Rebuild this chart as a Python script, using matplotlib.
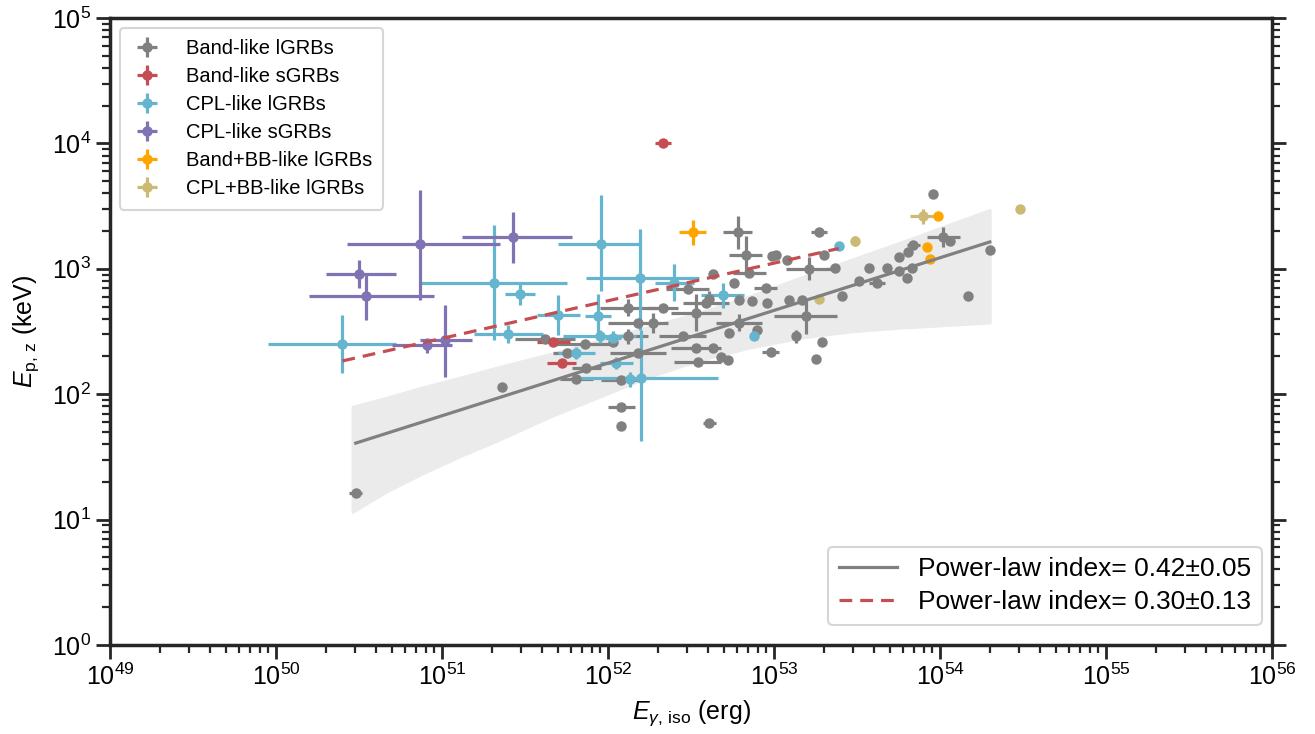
import numpy as np
import matplotlib.pyplot as plt

plt.rcParams['font.family'] = ['Liberation Sans', 'DejaVu Sans']
plt.rcParams['mathtext.fontset'] = 'custom'
plt.rcParams['mathtext.rm'] = 'Liberation Sans'
plt.rcParams['mathtext.it'] = 'Liberation Sans:italic'
plt.rcParams['mathtext.bf'] = 'Liberation Sans:bold'

# values are log10(E_iso / erg) and log10(Ep,z / keV), errors in dex

# Band-like lGRBs
band_l_lge = [50.48, 51.36, 51.62, 51.86, 51.75, 51.87, 51.81, 52.08, 52.08, 52.08,
              52.61, 52.12, 52.18, 52.27, 52.33, 52.12, 52.18, 52.45, 52.53, 52.53,
              52.63, 52.54, 52.68, 52.72, 52.79, 52.73, 52.90, 52.98, 53.25, 53.29,
              53.13, 53.19, 53.09, 53.17, 53.41, 53.51, 53.62, 53.57, 53.68, 53.75,
              53.80, 53.83, 53.75, 53.81, 53.84, 54.02, 54.06, 54.30, 54.17, 53.96,
              53.27, 53.21, 53.37, 53.30, 52.99, 53.01, 53.08, 52.78, 52.83, 52.85,
              52.76, 52.63, 52.95, 52.48, 52.61, 52.79, 52.87, 52.96, 52.03, 52.59]
band_l_lgep = [1.21, 2.06, 2.44, 2.40, 2.33, 2.21, 2.12, 2.11, 1.90, 1.75,
               1.77, 2.69, 2.57, 2.57, 2.69, 2.46, 2.33, 2.46, 2.65, 2.37,
               2.37, 2.26, 2.30, 2.27, 2.57, 2.49, 2.51, 2.34, 2.28, 2.42,
               2.46, 2.62, 2.75, 2.75, 2.78, 2.90, 2.89, 3.01, 3.01, 2.98,
               2.93, 3.01, 3.09, 3.13, 3.19, 3.25, 3.22, 3.15, 2.78, 3.60,
               3.29, 3.00, 3.01, 3.11, 3.10, 3.11, 3.07, 3.29, 3.11, 2.97,
               2.89, 2.96, 2.85, 2.84, 2.76, 2.75, 2.74, 2.73, 2.42, 2.73]
band_l_dx = [0.04, 0.00, 0.18, 0.19, 0.08, 0.09, 0.10, 0.12, 0.08, 0.00,
             0.04, 0.17, 0.18, 0.00, 0.09, 0.12, 0.17, 0.14, 0.15, 0.15,
             0.00, 0.14, 0.00, 0.00, 0.14, 0.00, 0.00, 0.05, 0.00, 0.00,
             0.00, 0.19, 0.00, 0.00, 0.00, 0.00, 0.05, 0.00, 0.00, 0.00,
             0.00, 0.00, 0.00, 0.00, 0.04, 0.10, 0.00, 0.00, 0.00, 0.00,
             0.05, 0.14, 0.00, 0.00, 0.00, 0.00, 0.00, 0.09, 0.10, 0.10,
             0.00, 0.00, 0.07, 0.13, 0.00, 0.00, 0.00, 0.00, 0.00, 0.14]
band_l_dy = [0.00, 0.00, 0.00, 0.00, 0.00, 0.00, 0.00, 0.00, 0.00, 0.00,
             0.00, 0.07, 0.00, 0.08, 0.00, 0.06, 0.00, 0.00, 0.15, 0.00,
             0.00, 0.00, 0.00, 0.00, 0.07, 0.00, 0.00, 0.00, 0.00, 0.00,
             0.05, 0.14, 0.00, 0.00, 0.00, 0.00, 0.00, 0.00, 0.00, 0.00,
             0.00, 0.00, 0.00, 0.00, 0.00, 0.08, 0.00, 0.00, 0.00, 0.00,
             0.00, 0.09, 0.00, 0.00, 0.00, 0.00, 0.00, 0.13, 0.15, 0.00,
             0.00, 0.00, 0.00, 0.00, 0.06, 0.00, 0.00, 0.00, 0.00, 0.00]

# Band-like sGRBs
band_s_lge = [52.33, 51.67, 51.72]
band_s_lgep = [4.00, 2.42, 2.25]
band_s_dx = [0.05, 0.10, 0.09]
band_s_dy = [0.02, 0.00, 0.00]

# CPL-like lGRBs
cpl_l_lge = [50.40, 51.31, 51.47, 51.40, 51.70, 51.96, 52.19, 52.20, 51.94,
             51.95, 52.03, 51.81, 52.05, 52.13, 52.40, 52.69, 52.88, 53.39]
cpl_l_lgep = [2.40, 2.89, 2.80, 2.48, 2.63, 3.20, 2.93, 2.13, 2.62,
              2.46, 2.45, 2.33, 2.25, 2.12, 2.89, 2.79, 2.46, 3.18]
cpl_l_dxl = [0.45, 0.45, 0.09, 0.21, 0.13, 0.26, 0.32, 0.39, 0.08,
             0.22, 0.05, 0.11, 0.10, 0.05, 0.12, 0.13, 0.00, 0.00]
cpl_l_dxh = [0.32, 0.44, 0.09, 0.21, 0.13, 0.23, 0.36, 0.46, 0.08,
             0.22, 0.05, 0.11, 0.10, 0.05, 0.12, 0.13, 0.00, 0.00]
cpl_l_dyl = [0.23, 0.46, 0.09, 0.07, 0.16, 0.38, 0.42, 0.50, 0.18,
             0.05, 0.05, 0.05, 0.05, 0.06, 0.15, 0.10, 0.00, 0.00]
cpl_l_dyh = [0.23, 0.46, 0.09, 0.07, 0.16, 0.39, 0.39, 0.38, 0.18,
             0.05, 0.05, 0.05, 0.05, 0.06, 0.15, 0.10, 0.00, 0.00]

# CPL-like sGRBs
cpl_s_lge = [50.87, 51.43, 50.50, 50.54, 50.91, 51.02]
cpl_s_lgep = [3.20, 3.25, 2.96, 2.78, 2.39, 2.43]
cpl_s_dxl = [0.44, 0.31, 0.20, 0.34, 0.21, 0.15]
cpl_s_dxh = [0.48, 0.35, 0.22, 0.41, 0.15, 0.16]
cpl_s_dyl = [0.45, 0.20, 0.11, 0.19, 0.06, 0.29]
cpl_s_dyh = [0.43, 0.20, 0.11, 0.19, 0.06, 0.28]

# Band+BB-like lGRBs
bandbb_lge = [52.51, 53.99, 53.92, 53.94]
bandbb_lgep = [3.29, 3.42, 3.17, 3.08]
bandbb_dx = [0.08, 0.00, 0.00, 0.00]
bandbb_dy = [0.10, 0.00, 0.00, 0.00]

# CPL+BB-like lGRBs
cplbb_lge = [53.90, 53.49, 54.48, 53.27]
cplbb_lgep = [3.42, 3.22, 3.48, 2.76]
cplbb_dx = [0.08, 0.00, 0.00, 0.00]
cplbb_dy = [0.06, 0.04, 0.00, 0.00]

# fits: log Ep = norm + index * (log E - pivot)
fit_all = dict(norm=2.416, index=0.42, pivot=52.4, lo=50.48, hi=54.30)
fit_cpl = dict(norm=2.745, index=0.30, pivot=52.0, lo=50.40, hi=53.39)

# confidence band of the lGRB fit
band_lgx = [50.46, 50.66, 50.87, 51.10, 51.35, 51.65, 51.95, 52.25, 52.55,
            52.85, 53.16, 53.46, 53.76, 54.03, 54.30]
band_up = [1.90, 1.97, 2.05, 2.13, 2.22, 2.32, 2.43, 2.54, 2.65,
           2.78, 2.93, 3.07, 3.21, 3.34, 3.47]
band_dn = [1.06, 1.22, 1.36, 1.50, 1.64, 1.82, 1.98, 2.14, 2.27,
           2.37, 2.45, 2.50, 2.53, 2.55, 2.57]


def plot_group(ax, lge, lgep, dxl, dxh, dyl, dyh, color, label):
    lge = np.array(lge)
    lgep = np.array(lgep)
    x = 10 ** lge
    y = 10 ** lgep
    xerr = [x - 10 ** (lge - np.array(dxl)), 10 ** (lge + np.array(dxh)) - x]
    yerr = [y - 10 ** (lgep - np.array(dyl)), 10 ** (lgep + np.array(dyh)) - y]
    ax.errorbar(x, y, xerr=xerr, yerr=yerr, fmt='o', color=color, ms=6.5,
                elinewidth=2.3, capsize=0, label=label, zorder=3)


def fit_line(f):
    lgx = np.array([f['lo'], f['hi']])
    return 10 ** lgx, 10 ** (f['norm'] + f['index'] * (lgx - f['pivot']))


fig = plt.figure(figsize=(13.15, 7.34), dpi=100)
ax = fig.add_axes([0.0837, 0.1213, 0.8836, 0.8542])

ax.fill_between(10 ** np.array(band_lgx), 10 ** np.array(band_dn), 10 ** np.array(band_up),
                color='#ebebeb', lw=2, joinstyle='round', zorder=1)

plot_group(ax, band_l_lge, band_l_lgep, band_l_dx, band_l_dx, band_l_dy, band_l_dy,
           'gray', 'Band-like lGRBs')
plot_group(ax, band_s_lge, band_s_lgep, band_s_dx, band_s_dx, band_s_dy, band_s_dy,
           '#c44e52', 'Band-like sGRBs')
plot_group(ax, cpl_l_lge, cpl_l_lgep, cpl_l_dxl, cpl_l_dxh, cpl_l_dyl, cpl_l_dyh,
           '#64b5cd', 'CPL-like lGRBs')
plot_group(ax, cpl_s_lge, cpl_s_lgep, cpl_s_dxl, cpl_s_dxh, cpl_s_dyl, cpl_s_dyh,
           '#8172b3', 'CPL-like sGRBs')
plot_group(ax, bandbb_lge, bandbb_lgep, bandbb_dx, bandbb_dx, bandbb_dy, bandbb_dy,
           'orange', 'Band+BB-like lGRBs')
plot_group(ax, cplbb_lge, cplbb_lgep, cplbb_dx, cplbb_dx, cplbb_dy, cplbb_dy,
           '#ccb974', 'CPL+BB-like lGRBs')

x1, y1 = fit_line(fit_all)
l1, = ax.plot(x1, y1, color='gray', lw=2.3, zorder=4)
x2, y2 = fit_line(fit_cpl)
l2, = ax.plot(x2, y2, color='#c44e52', lw=2.3, ls='--', dashes=(4, 2.5), zorder=4)

ax.set_xscale('log')
ax.set_yscale('log')
ax.set_xlim(1e49, 1e56)
ax.set_ylim(1, 1e5)

ax.set_xlabel(r'$E_{\gamma,\,\rm iso}$ (erg)', fontsize=18, labelpad=6)
ax.set_ylabel(r'$E_{\rm p,\,z}$ (keV)', fontsize=18, labelpad=8)

for s in ax.spines.values():
    s.set_linewidth(2.5)
    s.set_color('0.15')
ax.tick_params(which='both', direction='out', color='0.15', right=True, top=False,
               labelsize=18)
ax.tick_params(which='major', length=10, width=2)
ax.tick_params(which='minor', length=6, width=1.6)

leg1 = ax.legend(loc='upper left', fontsize=14.5, handlelength=1.6, handletextpad=1.1,
                 borderpad=0.55, labelspacing=0.45, edgecolor='0.8', fancybox=True)
leg1.get_frame().set_linewidth(1.5)
ax.add_artist(leg1)
leg2 = ax.legend([l1, l2], ['Power-law index= 0.42±0.05', 'Power-law index= 0.30±0.13'],
                 loc='lower right', bbox_to_anchor=(0.991, 0.032), borderaxespad=0,
                 fontsize=19, handlelength=2.2, edgecolor='0.8',
                 borderpad=0.4, labelspacing=0.35)
leg2.get_frame().set_linewidth(1.5)

fig.savefig('out.png', dpi=100)
